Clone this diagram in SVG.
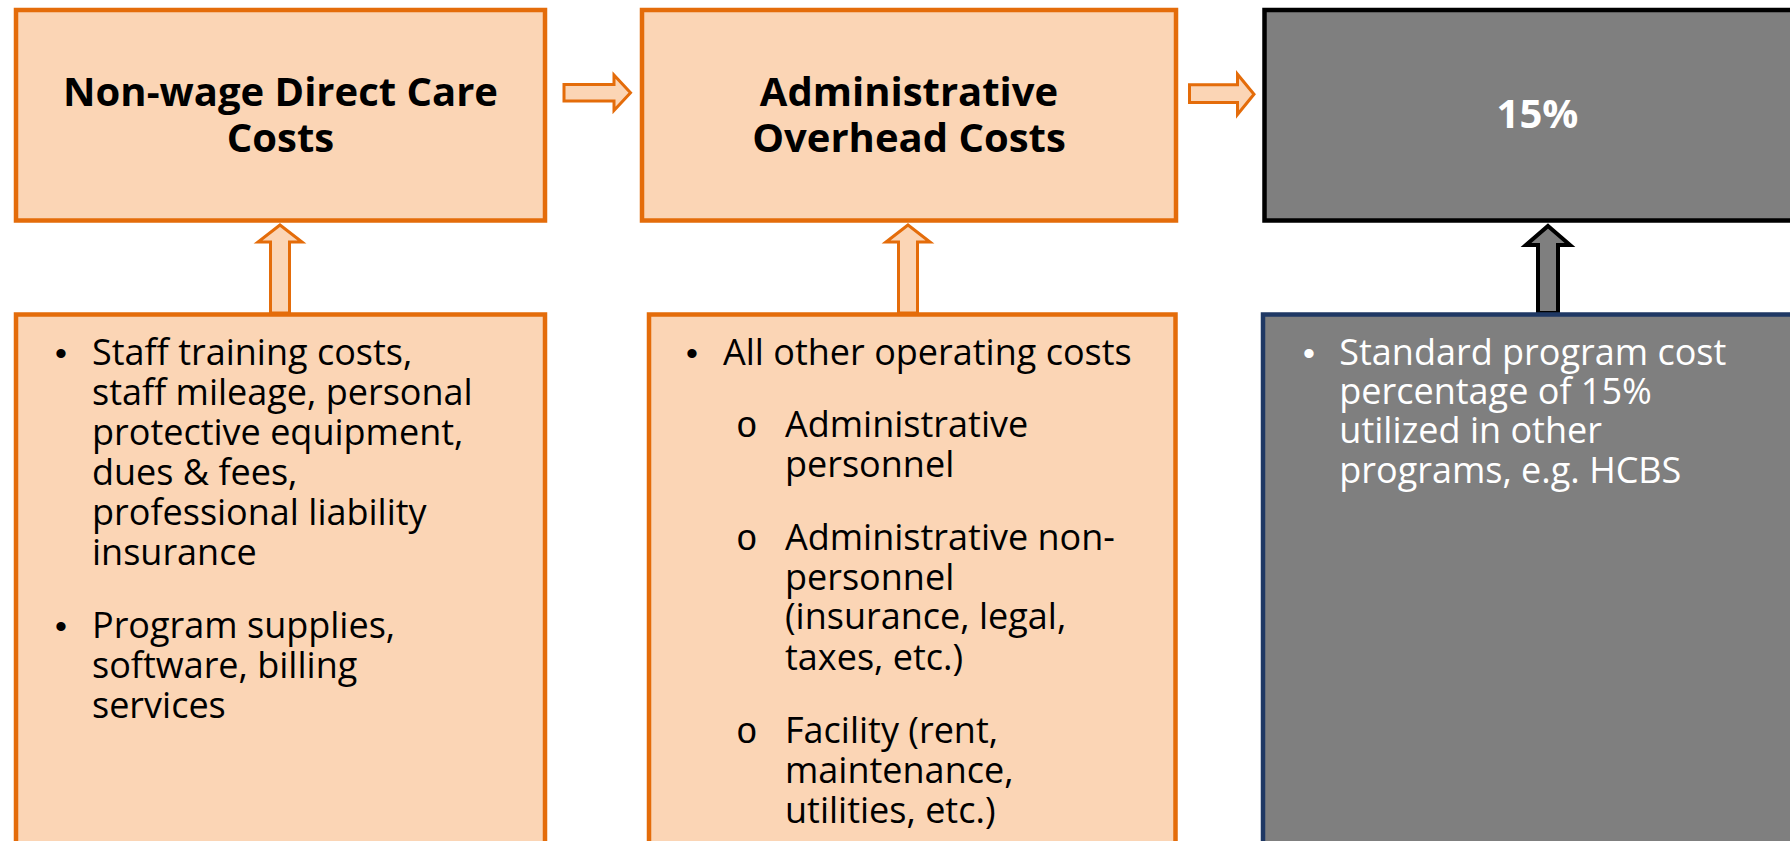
<svg xmlns="http://www.w3.org/2000/svg" width="1790" height="841" viewBox="0 0 1790 841">
  <style>
    .bg { fill: #ffffff; }
    .peach { fill: #FBD5B5; stroke: #E46C0A; stroke-width: 4.5; }
    .grey-top { fill: #7F7F7F; stroke: #000000; stroke-width: 4.5; }
    .grey-bottom { fill: #7F7F7F; stroke: #1F3864; stroke-width: 4.5; }
    .arrow-o { fill: #FBD5B5; stroke: #E46C0A; stroke-width: 3; stroke-linejoin: miter; }
    .arrow-g { fill: #7F7F7F; stroke: #000000; stroke-width: 4; stroke-linejoin: miter; }
    .title { font-family: "Open Sans", "Noto Sans", sans-serif; font-weight: 700; font-size: 40px; fill: #000000; text-anchor: middle; }
    .body { font-family: "Open Sans", "Noto Sans", sans-serif; font-size: 36px; fill: #000000; }
    .dot { font-family: "Liberation Sans", sans-serif; font-size: 34px; }
    .ring { font-family: "Liberation Mono", monospace; font-size: 36px; }
    text.white { fill: #ffffff; }
  </style>

  <rect class="bg" x="0" y="0" width="1790" height="841"/>

  <!-- block arrows between the boxes -->
  <g id="connectors">
    <path id="arrow-direct-to-admin" class="arrow-o" d="M564,84.5 L614,84.5 L614,75 L630.5,92.8 L614,110.5 L614,101 L564,101 Z"/>
    <path id="arrow-admin-to-rate" class="arrow-o" d="M1189.5,84.8 L1237.5,84.8 L1237.5,74.2 L1254,94.3 L1237.5,114.5 L1237.5,102.5 L1189.5,102.5 Z"/>
    <path id="arrow-up-direct" class="arrow-o" d="M280,225 L302,242 L289.5,242 L289.5,313 L270.5,313 L270.5,242 L258,242 Z"/>
    <path id="arrow-up-admin" class="arrow-o" d="M908,225 L930,242 L917.5,242 L917.5,313 L898.5,313 L898.5,242 L886,242 Z"/>
    <path id="arrow-up-rate" class="arrow-g" d="M1548,226 L1570,245 L1558,245 L1558,313 L1538,313 L1538,245 L1526,245 Z"/>
  </g>

  <!-- header boxes -->
  <g id="node-direct-care">
    <rect class="peach" x="16" y="10" width="529" height="210.5"/>
    <text class="title"><tspan x="280.5" y="106">Non-wage Direct Care</tspan><tspan x="280.5" y="151.7">Costs</tspan></text>
  </g>

  <g id="node-admin-overhead">
    <rect class="peach" x="642" y="10" width="534" height="210.5"/>
    <text class="title"><tspan x="909" y="106">Administrative</tspan><tspan x="909" y="151.7">Overhead Costs</tspan></text>
  </g>

  <g id="node-rate">
    <rect class="grey-top" x="1264.5" y="10" width="546" height="210.5"/>
    <text class="title white" x="1537.5" y="128">15%</text>
  </g>

  <!-- detail boxes -->
  <g id="node-direct-care-detail">
    <rect class="peach" x="16" y="314.5" width="529" height="560"/>
    <text class="body"><tspan class="dot" x="55" y="365">•</tspan><tspan x="92" y="365">Staff training costs,</tspan><tspan x="92" y="405">staff mileage, personal</tspan><tspan x="92" y="445">protective equipment,</tspan><tspan x="92" y="485">dues &amp; fees,</tspan><tspan x="92" y="525">professional liability</tspan><tspan x="92" y="565">insurance</tspan></text>
    <text class="body"><tspan class="dot" x="55" y="638">•</tspan><tspan x="92" y="638">Program supplies,</tspan><tspan x="92" y="678">software, billing</tspan><tspan x="92" y="718">services</tspan></text>
  </g>

  <g id="node-admin-detail">
    <rect class="peach" x="649" y="314.5" width="526.5" height="560"/>
    <text class="body"><tspan class="dot" x="686" y="365">•</tspan><tspan x="723" y="365">All other operating costs</tspan></text>
    <text class="body"><tspan class="ring" x="736" y="437.3">o</tspan><tspan x="785" y="437.3">Administrative</tspan><tspan x="785" y="476.7">personnel</tspan></text>
    <text class="body"><tspan class="ring" x="736" y="550">o</tspan><tspan x="785" y="550">Administrative non-</tspan><tspan x="785" y="589.5">personnel</tspan><tspan x="785" y="629.3">(insurance, legal,</tspan><tspan x="785" y="670">taxes, etc.)</tspan></text>
    <text class="body"><tspan class="ring" x="736" y="742.7">o</tspan><tspan x="785" y="742.7">Facility (rent,</tspan><tspan x="785" y="782.7">maintenance,</tspan><tspan x="785" y="822.7">utilities, etc.)</tspan></text>
  </g>

  <g id="node-rate-detail">
    <rect class="grey-bottom" x="1263" y="314.5" width="560" height="560"/>
    <text class="body white"><tspan class="dot" x="1303" y="365">•</tspan><tspan x="1339.3" y="365">Standard program cost</tspan><tspan x="1339.3" y="404.3">percentage of 15%</tspan><tspan x="1339.3" y="443.3">utilized in other</tspan><tspan x="1339.3" y="483.3">programs, e.g. HCBS</tspan></text>
  </g>
</svg>
